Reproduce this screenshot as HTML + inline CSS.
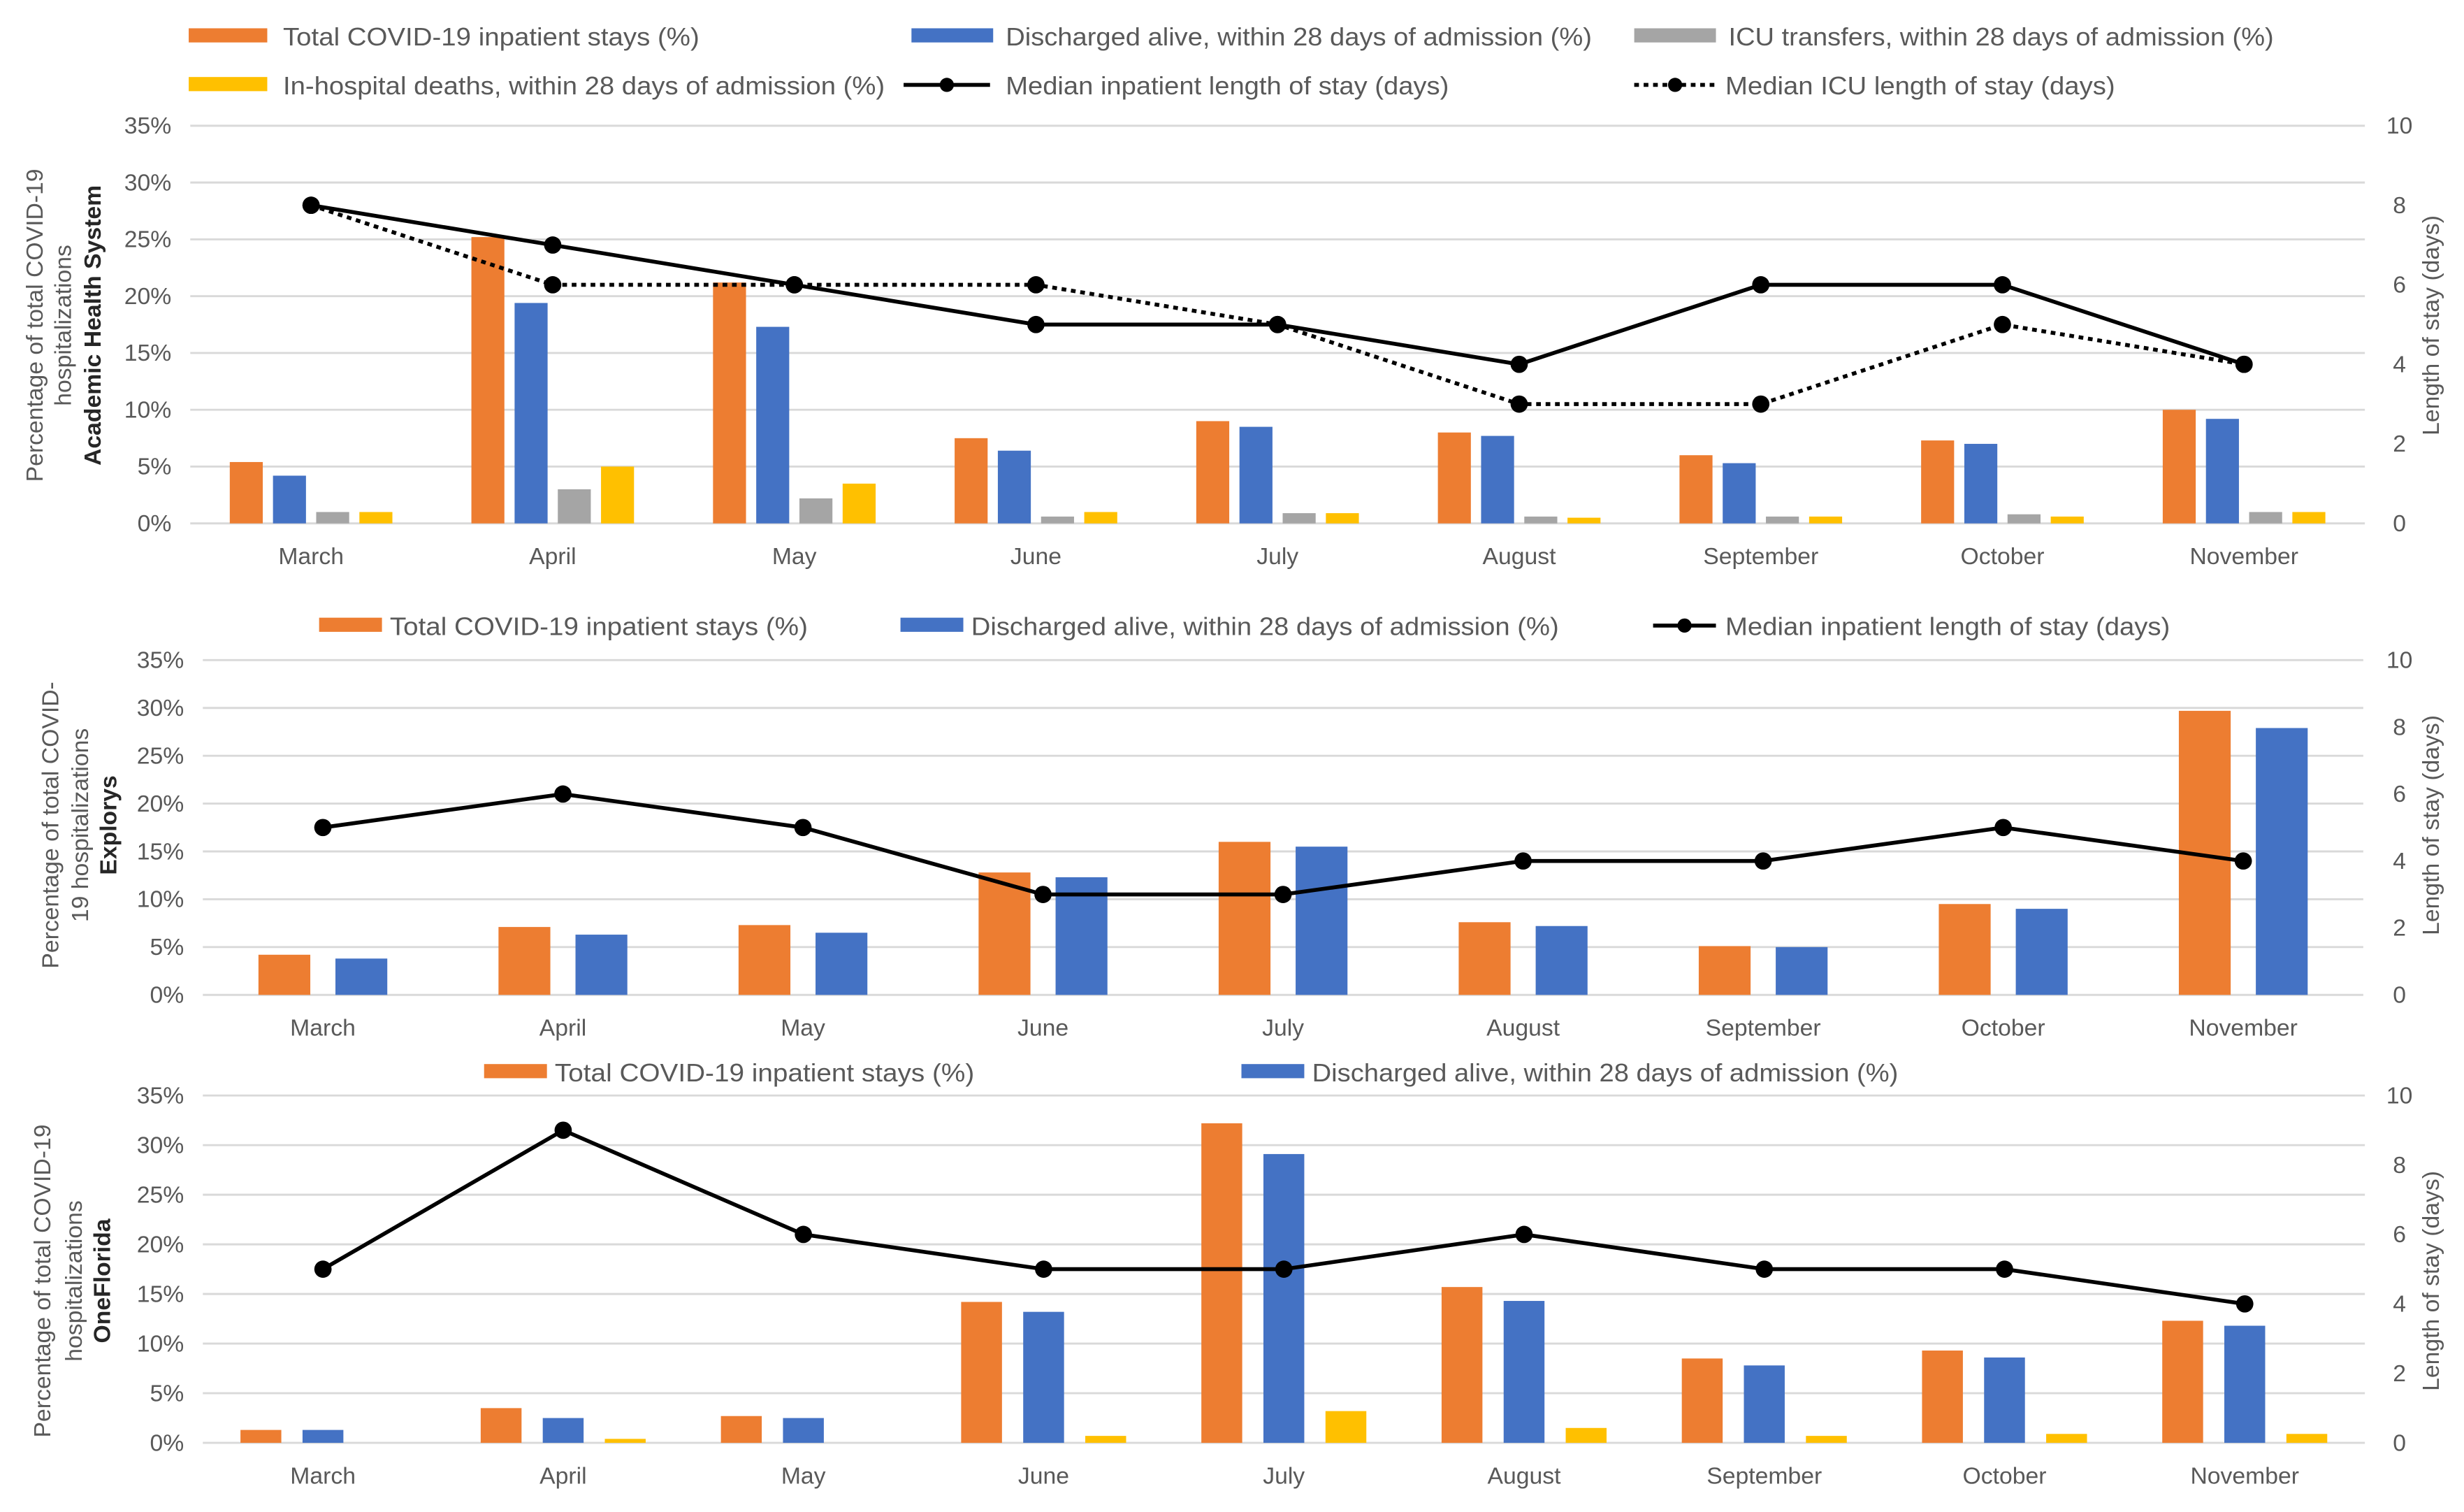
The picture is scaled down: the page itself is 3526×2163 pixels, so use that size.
<!DOCTYPE html>
<html><head><meta charset="utf-8"><style>
html,body{margin:0;padding:0;background:#fff;}
svg{display:block;font-family:"Liberation Sans",sans-serif;}
</style></head><body>
<svg id="chart" width="3526" height="2163" viewBox="0 0 1568 962" xmlns="http://www.w3.org/2000/svg"></svg>
<script>
const months = ["March","April","May","June","July","August","September","October","November"];
const yTicks = ["0%","5%","10%","15%","20%","25%","30%","35%"];
const rTicks = ["0","2","4","6","8","10"];
// Panel 1: Academic Health System
const p1Total = [5.4,25.2,21.2,7.5,9.0,8.0,6.0,7.3,10.0];
const p1Discharged = [4.2,19.4,17.3,6.4,8.5,7.7,5.3,7.0,9.2];
const p1ICU = [1.0,3.0,2.2,0.6,0.9,0.6,0.6,0.8,1.0];
const p1Deaths = [1.0,5.0,3.5,1.0,0.9,0.5,0.6,0.6,1.0];
const p1LOS = [8,7,6,5,5,4,6,6,4];
const p1ICULOS = [8,6,6,6,5,3,3,5,4];
// Panel 2: Explorys
const p2Total = [4.2,7.1,7.3,12.8,16.0,7.6,5.1,9.5,29.7];
const p2Discharged = [3.8,6.3,6.5,12.3,15.5,7.2,5.0,9.0,27.9];
const p2LOS = [5,6,5,3,3,4,4,5,4];
// Panel 3: OneFlorida
const p3Total = [1.3,3.5,2.7,14.2,32.2,15.7,8.5,9.3,12.3];
const p3Discharged = [1.3,2.5,2.5,13.2,29.1,14.3,7.8,8.6,11.8];
const p3Deaths = [0,0.4,0,0.7,3.2,1.5,0.7,0.9,0.9];
const p3LOS = [5,9,6,5,5,6,5,5,4];

const NS="http://www.w3.org/2000/svg";
const svg=document.getElementById('chart');
const C={orange:"#ED7D31",blue:"#4472C4",gray:"#A5A5A5",yellow:"#FFC000",text:"#595959",grid:"#D9D9D9"};
function mk(tag,attrs,parent){const e=document.createElementNS(NS,tag);for(const k in attrs)e.setAttribute(k,attrs[k]);(parent||svg).appendChild(e);return e;}
function txt(s,attrs,parent){const e=mk('text',attrs,parent);e.textContent=s;return e;}

function panel(cfg){
  const g=mk('g',{});
  
  
  const x0=cfg.x0,x1=cfg.x1,yTop=cfg.yTop,yBot=cfg.yBot;
  const slot=(x1-x0)/months.length;
  const xc=i=>x0+slot*(i+0.5);
  const yL=v=>yBot-(v/35)*(yBot-yTop);
  const yR=v=>yBot-(v/10)*(yBot-yTop);
  yTicks.forEach((t,i)=>{
    const y=yL(i*5);
    const gl=mk('line',{x1:x0,x2:x1,y1:y,y2:y,stroke:C.grid,'stroke-width':1.3},g);
    
    
    const tl=txt(t,{x:x0-12,y:y+5,'text-anchor':'end','font-size':15,fill:C.text},g);
    
    
  });
  rTicks.forEach(t=>{
    const rl=txt(t,{x:1527,y:yR(+t)+5,'text-anchor':'middle','font-size':15,fill:C.text},g);
    
    
  });
  months.forEach((m,i)=>{
    const ml=txt(m,{x:xc(i),y:yBot+26,'text-anchor':'middle','font-size':15,fill:C.text},g);
    
    
  });
  const n=cfg.series.length;
  cfg.series.forEach((s,si)=>{
    const off=(si-(n-1)/2)*cfg.pitch;
    s.data.forEach((v,i)=>{
      if(v<=0)return;
      const y=yL(v);
      const b=mk('rect',{x:xc(i)+off-cfg.bw/2,y:y,width:cfg.bw,height:yBot-y,fill:s.color},g);
      
      
    });
  });
  cfg.lines.forEach(l=>{
    const pts=l.data.map((v,i)=>xc(i)+','+yR(v)).join(' ');
    const pl=mk('polyline',{points:pts,fill:'none',stroke:'#000','stroke-width':2.5,'stroke-dasharray':l.dotted?'3,3':'none'},g);
    
    
    l.data.forEach((v,i)=>{
      const c=mk('circle',{cx:xc(i),cy:yR(v),r:5.5,fill:'#000'},g);
      
      
    });
  });
  cfg.titles.forEach((t,i)=>{
    const tt=txt(t.s,{x:0,y:0,'text-anchor':'middle','font-size':15,fill:t.bold?'#262626':C.text,'font-weight':t.bold?'bold':'normal',transform:`translate(${t.x},${cfg.tc}) rotate(-90)`},g);
    
    
  });
  const rt=txt('Length of stay  (days)',{x:0,y:0,'text-anchor':'middle','font-size':15,fill:C.text,transform:`translate(1552,${cfg.tc}) rotate(-90)`},g);
  
  
  cfg.legend.forEach(e=>{
    const lg=mk('g',{},g);
    
    
    if(e.type==='bar'){
      mk('rect',{x:e.sx,y:e.y-5,width:e.sw,height:9,fill:e.color},lg);
    }else{
      mk('line',{x1:e.sx,x2:e.sx+e.sw,y1:e.y,y2:e.y,stroke:'#000','stroke-width':2.5,'stroke-dasharray':e.dotted?'3,3':'none'},lg);
      mk('circle',{cx:e.sx+e.sw/2,cy:e.y,r:4.5,fill:'#000'},lg);
    }
    txt(e.s,{x:e.tx,y:e.y+6,'font-size':16,fill:C.text,textLength:e.tw,lengthAdjust:'spacingAndGlyphs'},lg);
  });
}

panel({name:'academic-health-system-panel',x0:121,x1:1505,yTop:80,yBot:333,bw:21,pitch:27.5,tc:207,
  series:[{key:'total',data:p1Total,color:C.orange},{key:'discharged',data:p1Discharged,color:C.blue},{key:'icu',data:p1ICU,color:C.gray},{key:'deaths',data:p1Deaths,color:C.yellow}],
  lines:[{key:'median-los',data:p1LOS},{key:'median-icu-los',data:p1ICULOS,dotted:true}],
  titles:[{s:'Percentage of total  COVID-19',x:27},{s:'hospitalizations',x:45},{s:'Academic  Health  System',x:64,bold:true}],
  legend:[
    {type:'bar',color:C.orange,sx:120,sw:50,y:23,tx:180,tw:265,s:'Total COVID-19 inpatient stays (%)'},
    {type:'bar',color:C.blue,sx:580,sw:52,y:23,tx:640,tw:373,s:'Discharged alive, within 28 days of admission (%)'},
    {type:'bar',color:C.gray,sx:1040,sw:52,y:23,tx:1100,tw:347,s:'ICU transfers, within 28 days of admission (%)'},
    {type:'bar',color:C.yellow,sx:120,sw:50,y:54,tx:180,tw:383,s:'In-hospital deaths, within 28 days of admission (%)'},
    {type:'line',sx:575,sw:55,y:54,tx:640,tw:282,s:'Median inpatient length of stay (days)'},
    {type:'line',dotted:true,sx:1040,sw:52,y:54,tx:1098,tw:248,s:'Median ICU length of stay (days)'}
  ]});
panel({name:'explorys-panel',x0:129,x1:1504,yTop:420,yBot:633,bw:33,pitch:49,tc:525,
  series:[{key:'total',data:p2Total,color:C.orange},{key:'discharged',data:p2Discharged,color:C.blue}],
  lines:[{key:'median-los',data:p2LOS}],
  titles:[{s:'Percentage of total COVID-',x:37},{s:'19 hospitalizations',x:56},{s:'Explorys',x:74,bold:true}],
  legend:[
    {type:'bar',color:C.orange,sx:203,sw:40,y:398,tx:248,tw:266,s:'Total COVID-19 inpatient stays (%)'},
    {type:'bar',color:C.blue,sx:573,sw:40,y:398,tx:618,tw:374,s:'Discharged alive, within 28 days of admission (%)'},
    {type:'line',sx:1052,sw:40,y:398,tx:1098,tw:283,s:'Median inpatient length of stay (days)'}
  ]});
panel({name:'oneflorida-panel',x0:129,x1:1505,yTop:697,yBot:918,bw:26,pitch:39.5,tc:815,
  series:[{key:'total',data:p3Total,color:C.orange},{key:'discharged',data:p3Discharged,color:C.blue},{key:'deaths',data:p3Deaths,color:C.yellow}],
  lines:[{key:'median-los',data:p3LOS}],
  titles:[{s:'Percentage of total  COVID-19',x:32},{s:'hospitalizations',x:52},{s:'OneFlorida',x:70,bold:true}],
  legend:[
    {type:'bar',color:C.orange,sx:308,sw:40,y:682,tx:353,tw:267,s:'Total COVID-19 inpatient stays (%)'},
    {type:'bar',color:C.blue,sx:790,sw:40,y:682,tx:835,tw:373,s:'Discharged alive, within 28 days of admission (%)'}
  ]});
</script>
</body></html>
